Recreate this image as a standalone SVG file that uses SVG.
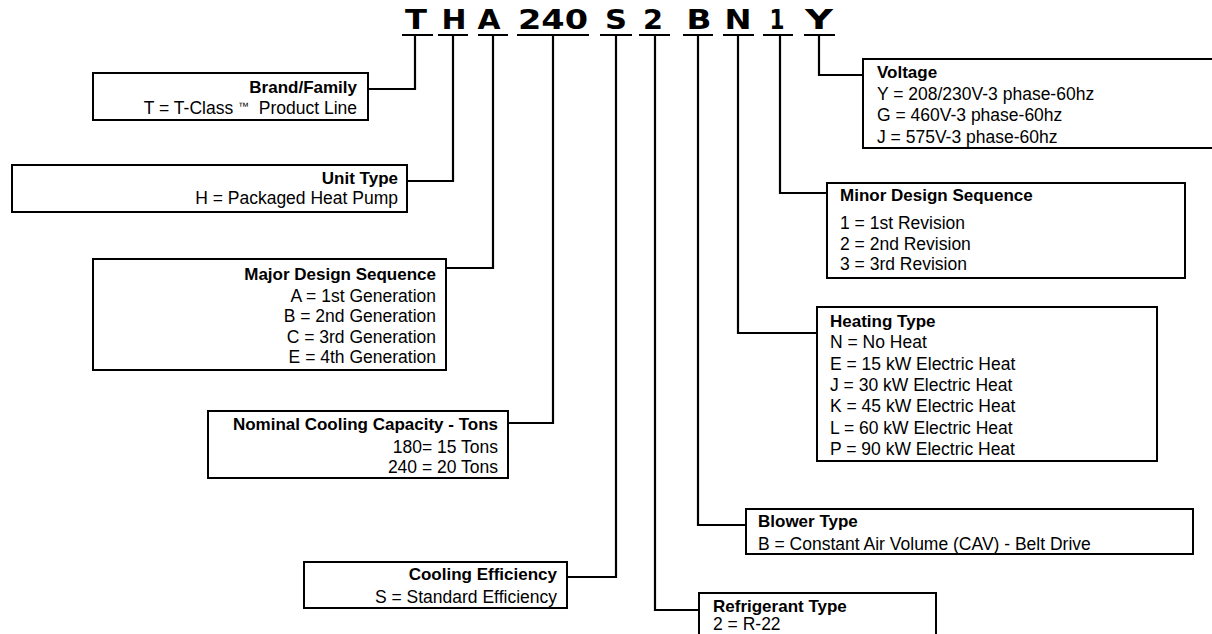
<svg xmlns="http://www.w3.org/2000/svg" width="1212" height="634" viewBox="0 0 1212 634">
<style>
.code{font-family:"DejaVu Sans","Liberation Sans",sans-serif;font-weight:bold;font-size:26px;fill:#000;text-anchor:middle}
.ul{stroke:#000;stroke-width:2.2;fill:none}
.box{fill:#fff;stroke:#000;stroke-width:2}
.conn{fill:none;stroke:#000;stroke-width:2.2}
.t{font-family:"Liberation Sans",Arial,sans-serif;font-size:17.5px;fill:#000}
.b{font-weight:bold;font-size:17px}
.r{text-anchor:end}
</style>
<rect width="1212" height="634" fill="#fff"/>
<g id="code">
<text class="code" x="416" y="29" textLength="22" lengthAdjust="spacingAndGlyphs">T</text>
<text class="code" x="454" y="29" textLength="25" lengthAdjust="spacingAndGlyphs">H</text>
<text class="code" x="489" y="29" textLength="23" lengthAdjust="spacingAndGlyphs">A</text>
<text class="code" x="553" y="29" textLength="70" lengthAdjust="spacingAndGlyphs">240</text>
<text class="code" x="616" y="29" textLength="22" lengthAdjust="spacingAndGlyphs">S</text>
<text class="code" x="653" y="29" textLength="20" lengthAdjust="spacingAndGlyphs">2</text>
<text class="code" x="699" y="29" textLength="25" lengthAdjust="spacingAndGlyphs">B</text>
<text class="code" x="738" y="29" textLength="27" lengthAdjust="spacingAndGlyphs">N</text>
<text class="code" x="777" y="29" textLength="15" lengthAdjust="spacingAndGlyphs">1</text>
<text class="code" x="819" y="29" textLength="28" lengthAdjust="spacingAndGlyphs">Y</text>
<path class="ul" d="M402 35H433M438 35H468M478 35H508M517 35H589M600 35H632M639 35H670M683 35H713M723 35H754M763 35H793M804 35H835"/>
</g>
<g id="connectors">
<polyline class="conn" points="415,35 415,89 368,89"/>
<polyline class="conn" points="453,35 453,181 407,181"/>
<polyline class="conn" points="493,35 493,268 446,268"/>
<polyline class="conn" points="553,35 553,423 508,423"/>
<polyline class="conn" points="616,35 616,577 567,577"/>
<polyline class="conn" points="655,35 655,610 699,610"/>
<polyline class="conn" points="698,35 698,525 746,525"/>
<polyline class="conn" points="738,35 738,333 817,333"/>
<polyline class="conn" points="780,35 780,193 827,193"/>
<polyline class="conn" points="819,35 819,75 863,75"/>
</g>
<g id="brand">
<rect class="box" x="93" y="73" width="275" height="47"/>
<text class="t b r" x="357" y="93">Brand/Family</text>
<text class="t r" x="357" y="114" xml:space="preserve">T = T-Class <tspan font-size="11" dy="-4">™</tspan><tspan dy="4">  Product Line</tspan></text>
</g>
<g id="unit">
<rect class="box" x="12" y="165" width="395" height="47"/>
<text class="t b r" x="398" y="184">Unit Type</text>
<text class="t r" x="398" y="204">H = Packaged Heat Pump</text>
</g>
<g id="major">
<rect class="box" x="93" y="259" width="353" height="111"/>
<text class="t b r" x="436" y="280">Major Design Sequence</text>
<text class="t r" x="436" y="301.5">A = 1st Generation</text>
<text class="t r" x="436" y="322">B = 2nd Generation</text>
<text class="t r" x="436" y="342.5">C = 3rd Generation</text>
<text class="t r" x="436" y="363">E = 4th Generation</text>
</g>
<g id="nominal">
<rect class="box" x="208" y="411" width="300" height="67"/>
<text class="t b r" x="498" y="430">Nominal Cooling Capacity - Tons</text>
<text class="t r" x="498" y="453">180= 15 Tons</text>
<text class="t r" x="498" y="473">240 = 20 Tons</text>
</g>
<g id="cooling">
<rect class="box" x="304" y="562" width="263" height="46"/>
<text class="t b r" x="557" y="580">Cooling Efficiency</text>
<text class="t r" x="557" y="603">S = Standard Efficiency</text>
</g>
<g id="voltage">
<rect class="box" x="863" y="59" width="360" height="89"/>
<text class="t b" x="877" y="78">Voltage</text>
<text class="t" x="877" y="99.5">Y = 208/230V-3 phase-60hz</text>
<text class="t" x="877" y="121">G = 460V-3 phase-60hz</text>
<text class="t" x="877" y="142.5">J = 575V-3 phase-60hz</text>
</g>
<g id="minor">
<rect class="box" x="827" y="183" width="358" height="95"/>
<text class="t b" x="840" y="201">Minor Design Sequence</text>
<text class="t" x="840" y="229">1 = 1st Revision</text>
<text class="t" x="840" y="250">2 = 2nd Revision</text>
<text class="t" x="840" y="270">3 = 3rd Revision</text>
</g>
<g id="heating">
<rect class="box" x="817" y="307" width="340" height="154"/>
<text class="t b" x="830" y="327">Heating Type</text>
<text class="t" x="830" y="348">N = No Heat</text>
<text class="t" x="830" y="370">E = 15 kW Electric Heat</text>
<text class="t" x="830" y="391">J = 30 kW Electric Heat</text>
<text class="t" x="830" y="412">K = 45 kW Electric Heat</text>
<text class="t" x="830" y="434">L = 60 kW Electric Heat</text>
<text class="t" x="830" y="455">P = 90 kW Electric Heat</text>
</g>
<g id="blower">
<rect class="box" x="746" y="509" width="447" height="45"/>
<text class="t b" x="758" y="527">Blower Type</text>
<text class="t" x="758" y="550">B = Constant Air Volume (CAV) - Belt Drive</text>
</g>
<g id="refrigerant">
<rect class="box" x="699" y="593" width="237" height="60"/>
<text class="t b" x="713" y="612">Refrigerant Type</text>
<text class="t" x="713" y="630">2 = R-22</text>
</g>
</svg>
